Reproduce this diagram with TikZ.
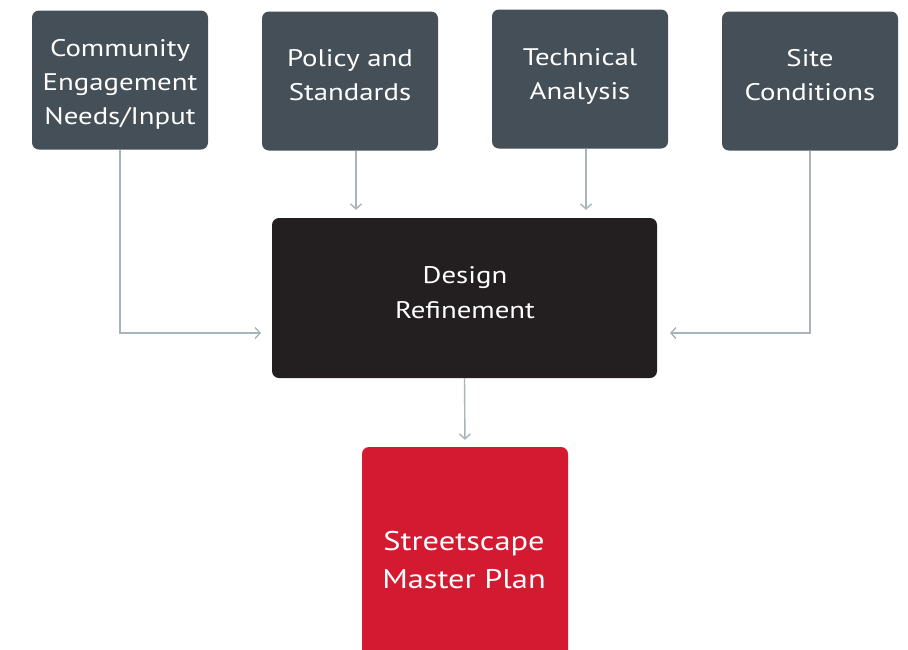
\documentclass[tikz,border=0pt]{standalone}
\usepackage{fontspec}
\setmainfont[FakeStretch=1.2]{PT Sans}
\usetikzlibrary{arrows.meta}
\definecolor{slate}{HTML}{444F57}
\definecolor{nearblack}{HTML}{231F20}
\definecolor{planred}{HTML}{D31A31}
\definecolor{wire}{HTML}{A9B3BA}
\tikzset{
  inbox/.style={fill=slate, rounded corners=7pt, minimum width=176pt,
    minimum height=139pt, inner sep=0pt},
  boxtext/.style={text=white, align=center, inner sep=0pt,
    font=\fontsize{24}{34}\selectfont},
  feed/.style={draw=wire, line width=1.4pt, -{Straight Barb[length=5pt,width=11pt]}},
}
\begin{document}
\begin{tikzpicture}[x=1pt,y=-1pt]
\useasboundingbox (0,0) rectangle (908,649);
% inputs
\node[inbox] (comm) at (120,80) {};
\node[inbox] (policy) at (350,81) {};
\node[inbox] (tech) at (580,79) {};
\node[inbox] (site) at (810,81) {};
\node[boxtext] (commText) at (120,83.2) {\strut Community\\Engagement\\Needs/Input\strut};
\node[boxtext] (policyText) at (350,76.7) {\strut Policy and\\Standards\strut};
\node[boxtext] (techText) at (580,75.5) {\strut Technical\\Analysis\strut};
\node[boxtext] (siteText) at (810,76.7) {\strut Site\\Conditions\strut};
% refinement and result
\node[inbox, fill=nearblack, minimum width=385pt, minimum height=160pt] (design) at (464.5,298) {};
\node[boxtext, font=\fontsize{24}{35}\selectfont] (designText) at (465,293.5) {\strut Design\\Refinement\strut};
\node[inbox, fill=planred, minimum width=206pt, minimum height=223pt] (plan) at (465,558.5) {};
\node[boxtext, font=\fontsize{27}{38}\selectfont] (planText) at (464,562) {\strut Streetscape\\Master Plan\strut};
% connectors
\coordinate (inL) at (272,333); \coordinate (inR) at (657,333);
\draw[feed, shorten >=11pt] (comm.south) |- (inL);
\draw[feed, shorten >=13pt] (site.south) |- (inR);
\draw[feed, shorten >=8pt] ([xshift=6pt]policy.south) -- ([xshift=6pt]policy.south |- design.north);
\draw[feed, shorten >=8pt] ([xshift=6pt]tech.south) -- ([xshift=6pt]tech.south |- design.north);
\draw[feed, shorten >=7pt] (design.south) -- (plan.north);
\end{tikzpicture}
\end{document}
